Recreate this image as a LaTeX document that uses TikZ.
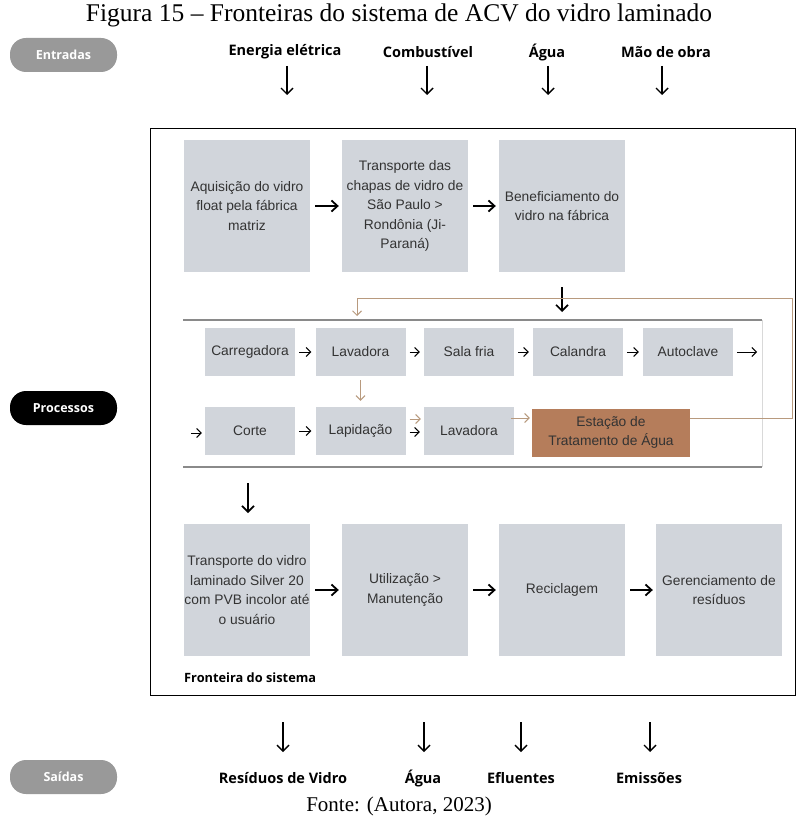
\documentclass[tikz,border=0pt]{standalone}
\usepackage{fontspec}
\setmainfont{Liberation Serif}
\setsansfont{Liberation Sans}
\newfontfamily\lblfont{Open Sans}
\usetikzlibrary{arrows.meta}
\definecolor{boxgray}{HTML}{D1D5DB}
\definecolor{etabrown}{HTML}{B57D5B}
\definecolor{loopbrown}{HTML}{B89A7E}
\definecolor{pillgray}{HTML}{999999}
\definecolor{bandgray}{HTML}{8A8A8A}
\definecolor{txtgray}{HTML}{333333}
\tikzset{
  bigbox/.style={fill=boxgray, minimum width=126pt, minimum height=132pt, inner sep=0pt, align=center, text=txtgray, font=\sffamily\fontsize{13.8}{19.5}\selectfont},
  smallbox/.style={fill=boxgray, minimum width=90pt, minimum height=48pt, inner sep=0pt, align=center, text=txtgray, font=\sffamily\fontsize{13.8}{19.5}\selectfont},
  bigarrow/.style={line width=1.8pt, -{Straight Barb[length=6pt,width=11pt]}, shorten <=5pt, shorten >=3pt},
  thinarrow/.style={line width=1pt, -{Straight Barb[length=4.5pt,width=9pt]}, shorten <=4pt, shorten >=4pt},
  brownarrow/.style={line width=1pt, loopbrown, -{Straight Barb[length=4.5pt,width=9pt]}},
  iolabel/.style={font=\lblfont\bfseries\fontsize{14.5}{16}\selectfont, inner sep=0pt},
  ioarrow/.style={line width=1.4pt, -{Straight Barb[length=6pt,width=12pt]}},
  pill/.style={rounded corners=16pt, minimum width=107pt, minimum height=34pt, inner sep=0pt, text=white, font=\lblfont\bfseries\fontsize{12.5}{14}\selectfont}
}
\begin{document}
\begin{tikzpicture}[x=1pt,y=-1pt]
\useasboundingbox[fill=white] (0,0) rectangle (797,826);

% title and source
\node[font=\fontsize{25.5}{28}\selectfont, inner sep=0pt] (title) at (399,15) {Figura 15 – Fronteiras do sistema de ACV do vidro laminado};
\node[font=\fontsize{21}{24}\selectfont, inner sep=0pt] (fonte) at (399,806) {Fonte: (Autora, 2023)};

% pills
\node[pill, fill=pillgray] (entradas) at (63.5,55) {Entradas};
\node[pill, fill=black] (processos) at (63.5,408) {Processos};
\node[pill, fill=pillgray] (saidas) at (63.5,777) {Saídas};

% inputs
\node[iolabel] (in1) at (285,52) {Energia elétrica};
\node[iolabel] (in2) at (428,52) {Combustível};
\node[iolabel] (in3) at (547,52) {Água};
\node[iolabel] (in4) at (666,52) {Mão de obra};
\coordinate (ia1) at (287,95);
\coordinate (ia2) at (427,95);
\coordinate (ia3) at (548,95);
\coordinate (ia4) at (662,95);
\draw[ioarrow] (287,66) -- (ia1);
\draw[ioarrow] (427,66) -- (ia2);
\draw[ioarrow] (548,66) -- (ia3);
\draw[ioarrow] (662,66) -- (ia4);

% frame
\draw[line width=0.9pt] (150,128) rectangle (795,695);
\node[font=\lblfont\bfseries\fontsize{12.8}{14}\selectfont, anchor=west, inner sep=0pt] (front) at (184,678) {Fronteira do sistema};

% top row
\node[bigbox] (b1) at (247,206) {Aquisição do vidro\\float pela fábrica\\matriz};
\node[bigbox] (b2) at (405,206) {Transporte das\\chapas de vidro de\\São Paulo >\\Rondônia (Ji-\\Paraná)};
\node[bigbox] (b3) at (562,206) {Beneficiamento do\\vidro na fábrica};
\draw[bigarrow] (b1) -- (b2);
\draw[bigarrow] (b2) -- (b3);
\coordinate (b3a) at (562,312);
\draw[ioarrow, line width=1.6pt] (562,287) -- (b3a);

% process band
\fill[white] (183,320) rectangle (762,467);
\draw[black!15, line width=0.6pt] (762,320) -- (762,467);
\draw[bandgray, line width=1.2pt] (183,320) -- (762,320);
\draw[bandgray, line width=1.2pt] (183,467) -- (762,467);

% row 1
\node[smallbox] (car) at (250,352) {Carregadora};
\node[smallbox] (lav1) at (360.5,352) {Lavadora};
\node[smallbox] (sala) at (469,352) {Sala fria};
\node[smallbox] (cal) at (578,352) {Calandra};
\node[smallbox] (auto) at (688,352) {Autoclave};
\draw[thinarrow] (car) -- (lav1);
\draw[thinarrow] (lav1) -- (sala);
\draw[thinarrow] (sala) -- (cal);
\draw[thinarrow] (cal) -- (auto);
\coordinate (autoend) at (757,352);
\draw[thinarrow, shorten >=0pt] (auto) -- (autoend);

% row 2
\node[smallbox] (corte) at (250,431) {Corte};
\node[smallbox] (lap) at (360.5,431) {Lapidação};
\node[smallbox] (lav2) at (469,431) {Lavadora};
\node[smallbox, fill=etabrown, minimum width=158pt, text=black!80] (eta) at (611,432.5) {Estação de\\Tratamento de Água};
\coordinate (cstart) at (191,433);
\draw[thinarrow, shorten <=0pt, shorten >=3pt] (cstart) -- (corte.west |- cstart);
\draw[thinarrow] (corte) -- (lap);
\draw[thinarrow] ([yshift=-1pt]lap.east) -- ([yshift=-1pt]lav2.west);
\draw[brownarrow] ([xshift=4pt,yshift=12pt]lap.east) -- ([xshift=-3pt,yshift=12pt]lav2.west);
\draw[brownarrow] ([xshift=-3pt,yshift=13pt]lav2.east) -- ([xshift=-2pt,yshift=14.5pt]eta.west);
\draw[brownarrow, shorten <=4pt, shorten >=6pt] (lav1) -- (lap);

% brown loop
\coordinate (lp1) at (792,418);
\coordinate (lp2) at (792,298);
\coordinate (lp3) at (357,298);
\coordinate (lp4) at (357,316);
\draw[loopbrown, line width=1pt] ([yshift=14.5pt]eta.east) -- (lp1) -- (lp2) -- (lp3);
\draw[brownarrow] (lp3) -- (lp4);

% bottom row
\node[bigbox] (t1) at (247,590) {Transporte do vidro\\laminado Silver 20\\com PVB incolor até\\o usuário};
\node[bigbox] (t2) at (405,590) {Utilização >\\Manutenção};
\node[bigbox] (t3) at (562,590) {Reciclagem};
\node[bigbox] (t4) at (719,590) {Gerenciamento de\\resíduos};
\draw[bigarrow] (t1) -- (t2);
\draw[bigarrow] (t2) -- (t3);
\draw[bigarrow] (t3) -- (t4);
\coordinate (t1a) at (248,513);
\draw[ioarrow, line width=1.6pt] (248,483) -- (t1a);

% outputs
\node[iolabel] (out1) at (283,778) {Resíduos de Vidro};
\node[iolabel] (out2) at (423,778) {Água};
\node[iolabel] (out3) at (521,778) {Efluentes};
\node[iolabel] (out4) at (649,778) {Emissões};
\coordinate (oa1) at (283,752);
\coordinate (oa2) at (424,752);
\coordinate (oa3) at (521,752);
\coordinate (oa4) at (650,752);
\draw[ioarrow] (283,722) -- (oa1);
\draw[ioarrow] (424,722) -- (oa2);
\draw[ioarrow] (521,722) -- (oa3);
\draw[ioarrow] (650,722) -- (oa4);
\end{tikzpicture}
\end{document}
